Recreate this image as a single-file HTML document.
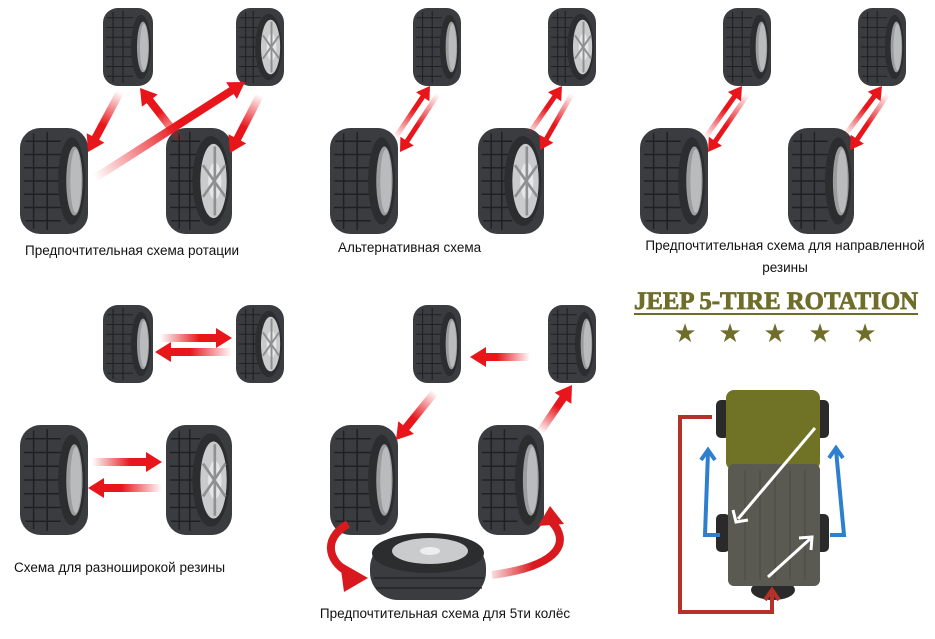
<!DOCTYPE html>
<html><head><meta charset="utf-8">
<style>
html,body{margin:0;padding:0;background:#fff;width:935px;height:639px;overflow:hidden}
svg{display:block}
.t{font-family:"Liberation Sans","DejaVu Sans",sans-serif;font-size:13.5px;fill:#111}
</style></head><body>
<svg id="s" width="935" height="639" viewBox="0 0 935 639" xmlns="http://www.w3.org/2000/svg">
<defs>
<symbol id="tireL" viewBox="0 0 50 80" preserveAspectRatio="none">
  <rect x="0" y="0" width="50" height="80" rx="15" fill="#3a3c3f"/>
  <g stroke="#1f2022" stroke-width="1.1">
    <line x1="4" y1="10" x2="30" y2="10"/><line x1="3" y1="20" x2="30" y2="20"/><line x1="3" y1="30" x2="30" y2="30"/>
    <line x1="3" y1="40" x2="30" y2="40"/><line x1="3" y1="50" x2="30" y2="50"/><line x1="3" y1="60" x2="30" y2="60"/><line x1="4" y1="70" x2="30" y2="70"/>
    <line x1="10" y1="4" x2="10" y2="76"/><line x1="20" y1="3" x2="20" y2="77"/>
  </g>
  <ellipse cx="38" cy="40" rx="10" ry="33" fill="#2c2d2f"/>
  <ellipse cx="40" cy="40" rx="6" ry="26" fill="#9a9c9e"/>
  <ellipse cx="41" cy="40" rx="4" ry="24" fill="#b9bbbd"/>
</symbol>
<symbol id="tireR" viewBox="0 0 50 80" preserveAspectRatio="none">
  <rect x="0" y="0" width="50" height="80" rx="15" fill="#3a3c3f"/>
  <g stroke="#1f2022" stroke-width="1.1">
    <line x1="4" y1="10" x2="26" y2="10"/><line x1="3" y1="20" x2="26" y2="20"/><line x1="3" y1="30" x2="26" y2="30"/>
    <line x1="3" y1="40" x2="26" y2="40"/><line x1="3" y1="50" x2="26" y2="50"/><line x1="3" y1="60" x2="26" y2="60"/><line x1="4" y1="70" x2="26" y2="70"/>
    <line x1="10" y1="4" x2="10" y2="76"/><line x1="18" y1="3" x2="18" y2="77"/>
  </g>
  <ellipse cx="34" cy="40" rx="14" ry="34" fill="#2c2d2f"/>
  <ellipse cx="36" cy="40" rx="10" ry="28" fill="#c9cbcd"/>
  <ellipse cx="37" cy="40" rx="5" ry="14" fill="#e6e7e8"/>
  <g stroke="#8e9092" stroke-width="2"><line x1="37" y1="14" x2="37" y2="66"/><line x1="28" y1="28" x2="45" y2="52"/><line x1="28" y1="52" x2="45" y2="28"/></g>
</symbol>
<linearGradient id="cr" x1="0" y1="0" x2="1" y2="0"><stop offset="0" stop-color="#d81a1f" stop-opacity="0.15"/><stop offset="0.6" stop-color="#d81a1f"/></linearGradient>
</defs>

<use href="#tireL" x="103" y="8" width="50" height="78"/>
<use href="#tireR" x="236" y="8" width="48" height="78"/>
<use href="#tireL" x="20" y="128" width="68" height="106"/>
<use href="#tireR" x="166" y="128" width="66" height="106"/>
<text class="t" x="25" y="255">Предпочтительная схема ротации</text>

<use href="#tireL" x="413" y="8" width="48" height="78"/>
<use href="#tireR" x="548" y="8" width="48" height="78"/>
<use href="#tireL" x="330" y="128" width="68" height="106"/>
<use href="#tireR" x="478" y="128" width="66" height="106"/>
<text class="t" x="338" y="252">Альтернативная схема</text>

<use href="#tireL" x="723" y="8" width="48" height="78"/>
<use href="#tireL" x="858" y="8" width="48" height="78"/>
<use href="#tireL" x="640" y="128" width="68" height="106"/>
<use href="#tireL" x="788" y="128" width="66" height="106"/>
<text class="t" x="785" y="250" text-anchor="middle">Предпочтительная схема для направленной</text>
<text class="t" x="785" y="272" text-anchor="middle">резины</text>

<use href="#tireL" x="103" y="305" width="50" height="78"/>
<use href="#tireR" x="236" y="305" width="48" height="78"/>
<use href="#tireL" x="20" y="425" width="68" height="110"/>
<use href="#tireR" x="166" y="425" width="66" height="110"/>
<text class="t" x="14" y="572">Схема для разноширокой резины</text>

<use href="#tireL" x="413" y="305" width="48" height="78"/>
<use href="#tireL" x="548" y="305" width="48" height="78"/>
<use href="#tireL" x="330" y="425" width="68" height="110"/>
<use href="#tireL" x="478" y="425" width="66" height="110"/>
<g>
  <rect x="370" y="540" width="116" height="60" rx="28" fill="#3a3c3f"/>
  <ellipse cx="428" cy="553" rx="56" ry="20" fill="#2c2d2f"/>
  <ellipse cx="430" cy="551" rx="38" ry="13" fill="#c9cbcd"/>
  <ellipse cx="430" cy="551" rx="10" ry="4" fill="#eee"/>
  <g stroke="#1f2022" stroke-width="1.2"><line x1="374" y1="578" x2="484" y2="578"/><line x1="376" y1="588" x2="482" y2="588"/></g>
</g>
<text class="t" x="445" y="618" text-anchor="middle">Предпочтительная схема для 5ти колёс</text>

<text x="776" y="309" text-anchor="middle" font-family="Liberation Serif,serif" font-weight="bold" font-size="25" fill="#6f6d2a" stroke="#6f6d2a" stroke-width="0.8" textLength="284" lengthAdjust="spacingAndGlyphs">JEEP 5-TIRE ROTATION</text>
<rect x="634" y="313" width="284" height="2" fill="#6f6d2a"/>
<g fill="#6f6d2a" font-size="26" font-family="DejaVu Sans,sans-serif" text-anchor="middle">
<text x="685" y="342">★</text><text x="730" y="342">★</text><text x="775" y="342">★</text><text x="820" y="342">★</text><text x="865" y="342">★</text>
</g>
<g>
  <rect x="716" y="400" width="14" height="38" rx="5" fill="#2a2a2a"/>
  <rect x="815" y="400" width="14" height="38" rx="5" fill="#2a2a2a"/>
  <rect x="716" y="514" width="14" height="38" rx="5" fill="#2a2a2a"/>
  <rect x="815" y="514" width="14" height="38" rx="5" fill="#2a2a2a"/>
  <ellipse cx="773" cy="590" rx="22" ry="10" fill="#2a2a2a"/>
  <rect x="726" y="390" width="94" height="80" rx="8" fill="#707225"/>
  <rect x="728" y="464" width="92" height="122" rx="6" fill="#5a5a52"/>
  <g stroke="#494940" stroke-width="1"><line x1="745" y1="470" x2="745" y2="580"/><line x1="760" y1="470" x2="760" y2="580"/><line x1="775" y1="470" x2="775" y2="580"/><line x1="790" y1="470" x2="790" y2="580"/><line x1="805" y1="470" x2="805" y2="580"/></g>
</g>
<polyline points="712,417 680,417 680,612 772,612 772,594" fill="none" stroke="#b4322a" stroke-width="4"/>
<path d="M765,600 L772,590 L779,600" fill="none" stroke="#b4322a" stroke-width="4"/>
<polyline points="720,535 705,535 708,452" fill="none" stroke="#2f7fd0" stroke-width="4"/>
<path d="M701,460 L708,450 L715,460" fill="none" stroke="#2f7fd0" stroke-width="4"/>
<polyline points="830,535 844,535 836,450" fill="none" stroke="#2f7fd0" stroke-width="4"/>
<path d="M829,458 L836,448 L843,458" fill="none" stroke="#2f7fd0" stroke-width="4"/>
<line x1="815" y1="428" x2="738" y2="519" stroke="#fff" stroke-width="3"/>
<path d="M733,510 L736,522 L748,520" fill="none" stroke="#fff" stroke-width="3"/>
<line x1="768" y1="577" x2="810" y2="539" stroke="#fff" stroke-width="3"/>
<path d="M799,538 L812,537 L811,550" fill="none" stroke="#fff" stroke-width="3"/>

<g id="arrows"></g>
<path d="M348,524 C320,540 330,565 352,574" fill="none" stroke="#d81a1f" stroke-width="8"/>
<polygon points="340,562 368,578 344,592" fill="#d81a1f"/>
<path d="M492,575 C565,565 568,540 552,522" fill="none" stroke="url(#cr)" stroke-width="8"/>
<polygon points="538,526 550,506 564,524" fill="#d81a1f"/>
</svg>
<script>
var A=[
[120,92,88,152,4],[182,142,140,88,4],[95,178,245,82,4],[260,95,230,153,4],
[395,138,430,86,2.5],[438,94,400,152,2.5],
[528,135,562,86,2.5],[572,94,540,150,2.5],
[705,138,742,86,2.5],[748,94,708,152,2.5],
[845,135,882,86,2.5],[888,94,850,150,2.5],
[160,338,232,338,4],[232,352,155,352,4],
[92,462,162,462,4],[162,488,88,488,4],
[530,357,470,357,4],[435,392,396,440,4],[540,432,572,385,4]
];
var g=document.getElementById('arrows'),ns='http://www.w3.org/2000/svg',d=document.querySelector('defs');
A.forEach(function(a,i){
 var x1=a[0],y1=a[1],x2=a[2],y2=a[3],dx=x2-x1,dy=y2-y1,L=Math.hypot(dx,dy),ux=dx/L,uy=dy/L,px=-uy,py=ux;
 var gr=document.createElementNS(ns,'linearGradient');gr.id='g'+i;gr.setAttribute('gradientUnits','userSpaceOnUse');
 gr.setAttribute('x1',x1);gr.setAttribute('y1',y1);gr.setAttribute('x2',x2);gr.setAttribute('y2',y2);
 gr.innerHTML='<stop offset="0" stop-color="#e8151b" stop-opacity="0"/><stop offset="0.55" stop-color="#e8151b"/><stop offset="1" stop-color="#e8151b"/>';
 d.appendChild(gr);
 var hw=a[4],hl=hw>3?16:13,hh=hw>3?10:8,bx=x2-ux*hl,by=y2-uy*hl;
 var pts=[[x1+px*hw,y1+py*hw],[bx+px*hw,by+py*hw],[bx+px*hh,by+py*hh],[x2,y2],[bx-px*hh,by-py*hh],[bx-px*hw,by-py*hw],[x1-px*hw,y1-py*hw]];
 var p=document.createElementNS(ns,'polygon');p.setAttribute('points',pts.map(function(q){return q[0].toFixed(1)+','+q[1].toFixed(1)}).join(' '));
 p.setAttribute('fill','url(#g'+i+')');g.appendChild(p);
});
</script>
</body></html>
